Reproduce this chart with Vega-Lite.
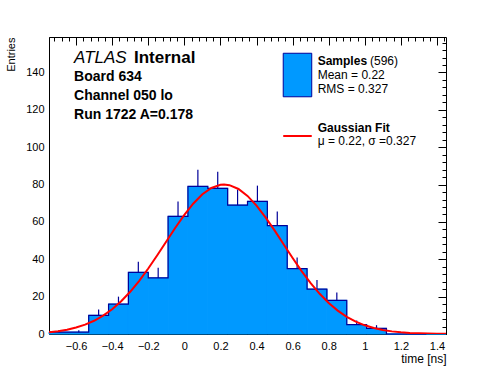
{
  "$schema": "https://vega.github.io/schema/vega-lite/v6.json",
  "width": 397,
  "height": 297,
  "autosize": {"type": "none"},
  "padding": {"left": 49, "top": 37, "right": 50, "bottom": 38},
  "background": "white",
  "config": {
    "font": "Liberation Sans",
    "view": {"stroke": "black", "strokeWidth": 1},
    "axis": {"grid": false, "labelColor": "black", "titleColor": "black", "labelFontSize": 11, "titleFontSize": 11, "titleFontWeight": "normal", "labelOverlap": false, "labelFlush": false}
  },
  "datasets": {
    "bins": [
      {"x0": -0.75, "x1": -0.64, "xc": -0.695, "n": 1, "hi": 2},
      {"x0": -0.64, "x1": -0.53, "xc": -0.585, "n": 1, "hi": 2},
      {"x0": -0.53, "x1": -0.42, "xc": -0.475, "n": 10, "hi": 13.16},
      {"x0": -0.42, "x1": -0.31, "xc": -0.365, "n": 16, "hi": 20},
      {"x0": -0.31, "x1": -0.2, "xc": -0.255, "n": 33, "hi": 38.74},
      {"x0": -0.2, "x1": -0.09, "xc": -0.145, "n": 30, "hi": 35.48},
      {"x0": -0.09, "x1": 0.02, "xc": -0.035, "n": 63, "hi": 70.94},
      {"x0": 0.02, "x1": 0.13, "xc": 0.075, "n": 79, "hi": 87.89},
      {"x0": 0.13, "x1": 0.24, "xc": 0.185, "n": 78, "hi": 86.83},
      {"x0": 0.24, "x1": 0.35, "xc": 0.295, "n": 69, "hi": 77.31},
      {"x0": 0.35, "x1": 0.46, "xc": 0.405, "n": 71, "hi": 79.43},
      {"x0": 0.46, "x1": 0.57, "xc": 0.515, "n": 58, "hi": 65.62},
      {"x0": 0.57, "x1": 0.68, "xc": 0.625, "n": 35, "hi": 40.92},
      {"x0": 0.68, "x1": 0.79, "xc": 0.735, "n": 24, "hi": 28.9},
      {"x0": 0.79, "x1": 0.9, "xc": 0.845, "n": 18, "hi": 22.24},
      {"x0": 0.9, "x1": 1.01, "xc": 0.955, "n": 5, "hi": 7.24},
      {"x0": 1.01, "x1": 1.12, "xc": 1.065, "n": 3, "hi": 4.73},
      {"x0": 1.12, "x1": 1.23, "xc": 1.175, "n": 0, "hi": 0},
      {"x0": 1.23, "x1": 1.34, "xc": 1.285, "n": 0, "hi": 0},
      {"x0": 1.34, "x1": 1.45, "xc": 1.395, "n": 0, "hi": 0}
    ],
    "fit": [
      {"fx": -0.75, "fy": 0.982}, {"fx": -0.7, "fy": 1.528}, {"fx": -0.65, "fy": 2.322},
      {"fx": -0.6, "fy": 3.448}, {"fx": -0.55, "fy": 5.0}, {"fx": -0.5, "fy": 7.086},
      {"fx": -0.45, "fy": 9.806}, {"fx": -0.4, "fy": 13.26}, {"fx": -0.35, "fy": 17.51},
      {"fx": -0.3, "fy": 22.59}, {"fx": -0.25, "fy": 28.48}, {"fx": -0.2, "fy": 35.06},
      {"fx": -0.15, "fy": 42.18}, {"fx": -0.1, "fy": 49.56}, {"fx": -0.05, "fy": 56.89},
      {"fx": 0.0, "fy": 63.8}, {"fx": 0.05, "fy": 69.89}, {"fx": 0.1, "fy": 74.79},
      {"fx": 0.15, "fy": 78.19}, {"fx": 0.2, "fy": 79.85}, {"fx": 0.22, "fy": 80.0},
      {"fx": 0.25, "fy": 79.66}, {"fx": 0.3, "fy": 77.64}, {"fx": 0.35, "fy": 73.92},
      {"fx": 0.4, "fy": 68.75}, {"fx": 0.45, "fy": 62.47}, {"fx": 0.5, "fy": 55.45},
      {"fx": 0.55, "fy": 48.08}, {"fx": 0.6, "fy": 40.72}, {"fx": 0.65, "fy": 33.7},
      {"fx": 0.7, "fy": 27.24}, {"fx": 0.75, "fy": 21.51}, {"fx": 0.8, "fy": 16.59},
      {"fx": 0.85, "fy": 12.51}, {"fx": 0.9, "fy": 9.207}, {"fx": 0.95, "fy": 6.622},
      {"fx": 1.0, "fy": 4.65}, {"fx": 1.05, "fy": 3.193}, {"fx": 1.1, "fy": 2.14},
      {"fx": 1.15, "fy": 1.402}, {"fx": 1.2, "fy": 0.897}, {"fx": 1.25, "fy": 0.561},
      {"fx": 1.3, "fy": 0.342}, {"fx": 1.35, "fy": 0.204}, {"fx": 1.4, "fy": 0.119},
      {"fx": 1.45, "fy": 0.068}
    ]
  },
  "resolve": {"axis": {"x": "independent", "y": "independent"}},
  "layer": [
    {
      "data": {"name": "bins"},
      "mark": {"type": "rect", "fill": "#0099ff", "stroke": "#0099ff", "strokeWidth": 1},
      "encoding": {
        "x": {"field": "x0", "type": "quantitative", "scale": {"domain": [-0.75, 1.45], "nice": false, "zero": false},
          "axis": {"values": [-0.6, -0.4, -0.2, 0, 0.2, 0.4, 0.6, 0.8, 1, 1.2, 1.4], "format": "~g", "ticks": false, "labelPadding": 6, "domain": true, "domainColor": "black", "title": "time [ns]", "titleAnchor": "end", "titleFontSize": 12, "titlePadding": 2}},
        "x2": {"field": "x1"},
        "y": {"field": "n", "type": "quantitative", "scale": {"domain": [0, 159], "nice": false, "zero": true},
          "axis": {"values": [0, 20, 40, 60, 80, 100, 120, 140], "ticks": false, "labelPadding": 5, "domain": true, "domainColor": "black", "title": "Entries", "titleAnchor": "end", "titlePadding": 9}},
        "y2": {"datum": 0}
      }
    },
    {
      "data": {"name": "bins"},
      "mark": {"type": "line", "interpolate": "step-after", "color": "#000099", "strokeWidth": 1.2},
      "encoding": {
        "x": {"field": "x0", "type": "quantitative", "scale": {"domain": [-0.75, 1.45], "nice": false, "zero": false},
          "axis": {"values": [-0.6, -0.4, -0.2, 0, 0.2, 0.4, 0.6, 0.8, 1, 1.2, 1.4], "labels": false, "domain": false, "ticks": true, "tickSize": -8, "tickColor": "black", "tickWidth": 1, "title": null}},
        "y": {"field": "n", "type": "quantitative", "scale": {"domain": [0, 159], "nice": false, "zero": true},
          "axis": {"values": [0, 20, 40, 60, 80, 100, 120, 140], "labels": false, "domain": false, "ticks": true, "tickSize": -8, "tickColor": "black", "tickWidth": 1, "title": null}}
      }
    },
    {
      "data": {"name": "bins"},
      "mark": {"type": "rule", "color": "#000099", "strokeWidth": 1.2},
      "encoding": {
        "x": {"field": "xc", "type": "quantitative", "scale": {"domain": [-0.75, 1.45], "nice": false, "zero": false},
          "axis": {"values": [-0.72, -0.68, -0.64, -0.6, -0.56, -0.52, -0.48, -0.44, -0.4, -0.36, -0.32, -0.28, -0.24, -0.2, -0.16, -0.12, -0.08, -0.04, 0, 0.04, 0.08, 0.12, 0.16, 0.2, 0.24, 0.28, 0.32, 0.36, 0.4, 0.44, 0.48, 0.52, 0.56, 0.6, 0.64, 0.68, 0.72, 0.76, 0.8, 0.84, 0.88, 0.92, 0.96, 1, 1.04, 1.08, 1.12, 1.16, 1.2, 1.24, 1.28, 1.32, 1.36, 1.4, 1.44], "labels": false, "domain": false, "ticks": true, "tickSize": -4, "tickColor": "black", "tickWidth": 1, "title": null}},
        "y": {"field": "n", "type": "quantitative", "scale": {"domain": [0, 159], "nice": false, "zero": true},
          "axis": {"values": [0, 4, 8, 12, 16, 20, 24, 28, 32, 36, 40, 44, 48, 52, 56, 60, 64, 68, 72, 76, 80, 84, 88, 92, 96, 100, 104, 108, 112, 116, 120, 124, 128, 132, 136, 140, 144, 148, 152, 156], "labels": false, "domain": false, "ticks": true, "tickSize": -4, "tickColor": "black", "tickWidth": 1, "title": null}},
        "y2": {"field": "hi"}
      }
    },
    {
      "data": {"name": "fit"},
      "mark": {"type": "line", "color": "#ff0000", "strokeWidth": 2, "clip": true},
      "encoding": {
        "x": {"field": "fx", "type": "quantitative", "scale": {"domain": [-0.75, 1.45], "nice": false, "zero": false}, "axis": null},
        "y": {"field": "fy", "type": "quantitative", "scale": {"domain": [0, 159], "nice": false, "zero": true}, "axis": null}
      }
    },
    {
      "data": {"values": [{}]},
      "mark": {"type": "text", "text": "ATLAS", "fontSize": 17, "fontStyle": "italic", "align": "left", "baseline": "alphabetic"},
      "encoding": {
        "x": {"datum": -0.611, "type": "quantitative", "scale": {"domain": [-0.75, 1.45], "nice": false, "zero": false}, "axis": null},
        "y": {"datum": 144.9, "type": "quantitative", "scale": {"domain": [0, 159], "nice": false, "zero": true}, "axis": null}
      }
    },
    {
      "data": {"values": [{}]},
      "mark": {"type": "text", "text": "Internal", "fontSize": 17, "fontWeight": "bold", "align": "left", "baseline": "alphabetic"},
      "encoding": {
        "x": {"datum": -0.279, "type": "quantitative", "scale": {"domain": [-0.75, 1.45], "nice": false, "zero": false}, "axis": null},
        "y": {"datum": 144.9, "type": "quantitative", "scale": {"domain": [0, 159], "nice": false, "zero": true}, "axis": null}
      }
    },
    {
      "data": {"values": [{}]},
      "mark": {"type": "text", "text": "Board 634", "fontSize": 14, "fontWeight": "bold", "align": "left", "baseline": "alphabetic"},
      "encoding": {
        "x": {"datum": -0.611, "type": "quantitative", "scale": {"domain": [-0.75, 1.45], "nice": false, "zero": false}, "axis": null},
        "y": {"datum": 135.6, "type": "quantitative", "scale": {"domain": [0, 159], "nice": false, "zero": true}, "axis": null}
      }
    },
    {
      "data": {"values": [{}]},
      "mark": {"type": "text", "text": "Channel 050 lo", "fontSize": 14, "fontWeight": "bold", "align": "left", "baseline": "alphabetic"},
      "encoding": {
        "x": {"datum": -0.611, "type": "quantitative", "scale": {"domain": [-0.75, 1.45], "nice": false, "zero": false}, "axis": null},
        "y": {"datum": 125.3, "type": "quantitative", "scale": {"domain": [0, 159], "nice": false, "zero": true}, "axis": null}
      }
    },
    {
      "data": {"values": [{}]},
      "mark": {"type": "text", "text": "Run 1722 A=0.178", "fontSize": 14, "fontWeight": "bold", "align": "left", "baseline": "alphabetic"},
      "encoding": {
        "x": {"datum": -0.611, "type": "quantitative", "scale": {"domain": [-0.75, 1.45], "nice": false, "zero": false}, "axis": null},
        "y": {"datum": 115.3, "type": "quantitative", "scale": {"domain": [0, 159], "nice": false, "zero": true}, "axis": null}
      }
    },
    {
      "data": {"values": [{}]},
      "mark": {"type": "rect", "fill": "#0099ff", "stroke": "#000099", "strokeWidth": 1},
      "encoding": {
        "x": {"datum": 0.548, "type": "quantitative", "scale": {"domain": [-0.75, 1.45], "nice": false, "zero": false}, "axis": null},
        "x2": {"datum": 0.706},
        "y": {"datum": 150.3, "type": "quantitative", "scale": {"domain": [0, 159], "nice": false, "zero": true}, "axis": null},
        "y2": {"datum": 127.0}
      }
    },
    {
      "data": {"values": [{}]},
      "mark": {"type": "rule", "color": "#ff0000", "strokeWidth": 2},
      "encoding": {
        "x": {"datum": 0.548, "type": "quantitative", "scale": {"domain": [-0.75, 1.45], "nice": false, "zero": false}, "axis": null},
        "x2": {"datum": 0.706},
        "y": {"datum": 106.0, "type": "quantitative", "scale": {"domain": [0, 159], "nice": false, "zero": true}, "axis": null}
      }
    },
    {
      "data": {"values": [{}]},
      "mark": {"type": "text", "text": "Samples", "fontSize": 12, "fontWeight": "bold", "align": "left", "baseline": "alphabetic"},
      "encoding": {
        "x": {"datum": 0.739, "type": "quantitative", "scale": {"domain": [-0.75, 1.45], "nice": false, "zero": false}, "axis": null},
        "y": {"datum": 144.0, "type": "quantitative", "scale": {"domain": [0, 159], "nice": false, "zero": true}, "axis": null}
      }
    },
    {
      "data": {"values": [{}]},
      "mark": {"type": "text", "text": "(596)", "fontSize": 12, "align": "left", "baseline": "alphabetic"},
      "encoding": {
        "x": {"datum": 1.029, "type": "quantitative", "scale": {"domain": [-0.75, 1.45], "nice": false, "zero": false}, "axis": null},
        "y": {"datum": 144.0, "type": "quantitative", "scale": {"domain": [0, 159], "nice": false, "zero": true}, "axis": null}
      }
    },
    {
      "data": {"values": [{}]},
      "mark": {"type": "text", "text": "Mean = 0.22", "fontSize": 12, "align": "left", "baseline": "alphabetic"},
      "encoding": {
        "x": {"datum": 0.739, "type": "quantitative", "scale": {"domain": [-0.75, 1.45], "nice": false, "zero": false}, "axis": null},
        "y": {"datum": 136.4, "type": "quantitative", "scale": {"domain": [0, 159], "nice": false, "zero": true}, "axis": null}
      }
    },
    {
      "data": {"values": [{}]},
      "mark": {"type": "text", "text": "RMS = 0.327", "fontSize": 12, "align": "left", "baseline": "alphabetic"},
      "encoding": {
        "x": {"datum": 0.739, "type": "quantitative", "scale": {"domain": [-0.75, 1.45], "nice": false, "zero": false}, "axis": null},
        "y": {"datum": 128.9, "type": "quantitative", "scale": {"domain": [0, 159], "nice": false, "zero": true}, "axis": null}
      }
    },
    {
      "data": {"values": [{}]},
      "mark": {"type": "text", "text": "Gaussian Fit", "fontSize": 12, "fontWeight": "bold", "align": "left", "baseline": "alphabetic"},
      "encoding": {
        "x": {"datum": 0.739, "type": "quantitative", "scale": {"domain": [-0.75, 1.45], "nice": false, "zero": false}, "axis": null},
        "y": {"datum": 108.1, "type": "quantitative", "scale": {"domain": [0, 159], "nice": false, "zero": true}, "axis": null}
      }
    },
    {
      "data": {"values": [{}]},
      "mark": {"type": "text", "text": "μ = 0.22, σ =0.327", "fontSize": 12, "align": "left", "baseline": "alphabetic"},
      "encoding": {
        "x": {"datum": 0.739, "type": "quantitative", "scale": {"domain": [-0.75, 1.45], "nice": false, "zero": false}, "axis": null},
        "y": {"datum": 101.2, "type": "quantitative", "scale": {"domain": [0, 159], "nice": false, "zero": true}, "axis": null}
      }
    }
  ]
}
